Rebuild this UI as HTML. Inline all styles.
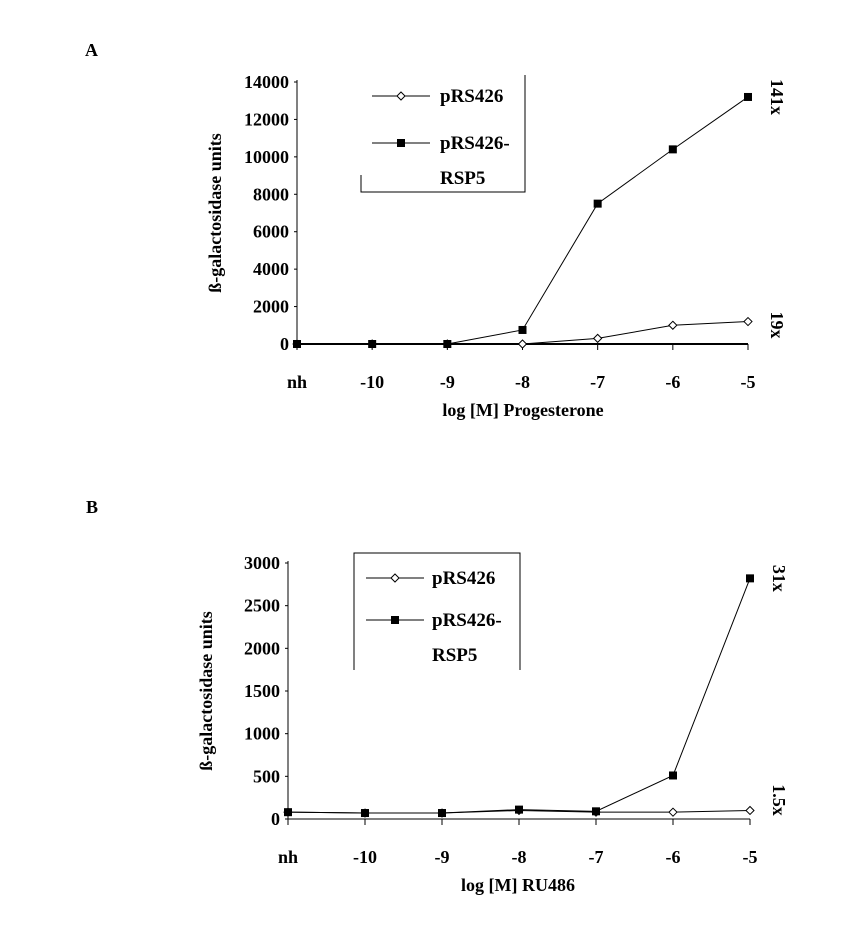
<!DOCTYPE html>
<html><head><meta charset="utf-8"><style>
body{margin:0;background:#fff}
svg text{font-family:"Liberation Serif",serif;font-weight:bold;fill:#000}
</style></head><body>
<svg id="s" width="860" height="935"></svg>
<script>
const cats=["nh","-10","-9","-8","-7","-6","-5"];
const aRsp5=[0,0,0,750,7500,10400,13200];
const aPrs=[0,0,0,0,300,1000,1200];
const aTicks=[0,2000,4000,6000,8000,10000,12000,14000];
const bRsp5=[80,70,70,110,90,510,2820];
const bPrs=[80,70,70,100,80,80,100];
const bTicks=[0,500,1000,1500,2000,2500,3000];
const NS="http://www.w3.org/2000/svg";
const svg=document.getElementById('s');
function el(t,a,txt){const e=document.createElementNS(NS,t);for(const k in a)e.setAttribute(k,a[k]);if(txt!=null)e.textContent=txt;svg.appendChild(e);return e;}
function chart(p){
  const x=i=>p.x0+i*(p.x1-p.x0)/(cats.length-1);
  const y=v=>p.y0-(v/p.vmax)*(p.y0-p.y1);
  let e=el('line',{x1:p.x0,y1:p.y0,x2:p.x0,y2:p.y1-2,stroke:'#000','stroke-width':1});
  
  e=el('line',{x1:p.x0,y1:p.y0,x2:x(6),y2:p.y0,stroke:'#000','stroke-width':p.id=='a'?2:1});
  
  p.ticks.forEach(v=>{
    e=el('text',{x:p.x0-8,y:y(v)+6,'text-anchor':'end','font-size':18},v);
    
    el('line',{x1:p.x0-3,y1:y(v),x2:p.x0,y2:y(v),stroke:'#000'});
  });
  cats.forEach((c,i)=>{
    el('line',{x1:x(i),y1:p.y0,x2:x(i),y2:p.y0+6,stroke:'#000'});
    e=el('text',{x:x(i),y:p.y0+44,'text-anchor':'middle','font-size':18},c);
    
  });
  const pts=a=>a.map((v,i)=>x(i)+','+y(v)).join(' ');
  e=el('polyline',{points:pts(p.prs),fill:'none',stroke:'#000','stroke-width':1});
  
  e=el('polyline',{points:pts(p.rsp),fill:'none',stroke:'#000','stroke-width':1});
  
  p.prs.forEach((v,i)=>{
    e=el('polygon',{points:`${x(i)},${y(v)-4} ${x(i)+4},${y(v)} ${x(i)},${y(v)+4} ${x(i)-4},${y(v)}`,fill:'#fff',stroke:'#000'});
    
  });
  p.rsp.forEach((v,i)=>{
    e=el('rect',{x:x(i)-4,y:y(v)-4,width:8,height:8,fill:'#000'});
    
  });
  e=el('text',{transform:`translate(${p.x0-76},${(p.y0+p.y1)/2}) rotate(-90)`,'text-anchor':'middle','font-size':18},'ß-galactosidase units');
  
  e=el('text',{x:p.xt,y:p.y0+72,'text-anchor':'middle','font-size':18},p.xtitle);
  
  e=el('text',{transform:`translate(${x(6)+23},${y(p.rsp[6])}) rotate(90)`,'text-anchor':'middle','font-size':18},p.f1);
  
  e=el('text',{transform:`translate(${x(6)+23},${p.f2y}) rotate(90)`,'text-anchor':'middle','font-size':18},p.f2);
  
  const L=p.leg;
  e=el('path',{d:L.box,fill:'none',stroke:'#000'});
  
  el('line',{x1:L.lx,y1:L.y1,x2:L.lx+58,y2:L.y1,stroke:'#000'});
  el('polygon',{points:`${L.lx+29},${L.y1-4} ${L.lx+33},${L.y1} ${L.lx+29},${L.y1+4} ${L.lx+25},${L.y1}`,fill:'#fff',stroke:'#000'});
  e=el('text',{x:L.tx,y:L.y1+6,'font-size':19},'pRS426');
  
  el('line',{x1:L.lx,y1:L.y2,x2:L.lx+58,y2:L.y2,stroke:'#000'});
  el('rect',{x:L.lx+25,y:L.y2-4,width:8,height:8,fill:'#000'});
  e=el('text',{x:L.tx,y:L.y2+6,'font-size':19},'pRS426-');
  
  el('text',{x:L.tx,y:L.y2+41,'font-size':19},'RSP5');
}
chart({id:'a',x0:297,x1:748,y0:344,y1:82,vmax:14000,ticks:aTicks,rsp:aRsp5,prs:aPrs,xtitle:'log [M] Progesterone',xt:523,f1:'141x',f2:'19x',f2y:325,
  leg:{box:'M525,75 L525,192 L361,192 L361,175',lx:372,y1:96,y2:143,tx:440}});
chart({id:'b',x0:288,x1:750,y0:819,y1:563,vmax:3000,ticks:bTicks,rsp:bRsp5,prs:bPrs,xtitle:'log [M] RU486',xt:518,f1:'31x',f2:'1.5x',f2y:800,
  leg:{box:'M354,670 L354,553 L520,553 L520,670',lx:366,y1:578,y2:620,tx:432}});
let t=el('text',{x:85,y:56,'font-size':18},'A');
t=el('text',{x:86,y:513,'font-size':18},'B');
</script>
</body></html>
